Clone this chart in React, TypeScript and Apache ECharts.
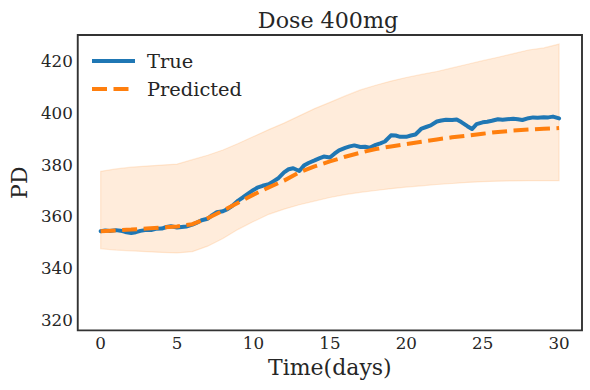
import { useEffect, useRef } from "react";
import * as echarts from "echarts";

const trueDays = [
  0, 0.3, 0.6, 1, 1.3, 1.6, 2, 2.3, 2.6, 3, 3.3, 3.6, 4, 4.3, 4.6, 5, 5.3, 5.6, 6, 6.3, 6.6, 7, 7.3, 7.6,
  8, 8.3, 8.6, 9, 9.3, 9.6, 10, 10.3, 10.6, 11, 11.3, 11.6, 12, 12.3, 12.6, 13, 13.3, 13.6, 14, 14.3, 14.6,
  15, 15.3, 15.6, 16, 16.3, 16.6, 17, 17.3, 17.6, 18, 18.3, 18.6, 19, 19.3, 19.6, 20, 20.3, 20.6, 21, 21.3,
  21.6, 22, 22.3, 22.6, 23, 23.3, 23.6, 24, 24.3, 24.6, 25, 25.3, 25.6, 26, 26.3, 26.6, 27, 27.3, 27.6, 28,
  28.3, 28.6, 29, 29.3, 29.6, 30,
];
const trueValues = [
  354.3, 354.6, 354.4, 354.7, 354.5, 354.0, 353.6, 353.9, 354.4, 354.8, 354.7, 355.2, 355.3, 355.9, 356.2,
  355.7, 355.9, 356.1, 356.8, 357.6, 358.5, 359.1, 360.5, 361.6, 362.0, 362.8, 364.0, 366.1, 367.3, 368.6,
  370.2, 371.2, 371.8, 372.4, 373.5, 374.6, 377.0, 378.2, 378.6, 377.5, 379.6, 380.6, 381.6, 382.4, 383.1,
  382.7, 384.2, 385.5, 386.4, 387.0, 387.4, 386.8, 386.9, 386.5, 387.6, 388.2, 388.9, 391.3, 391.2, 390.7,
  390.7, 391.2, 391.6, 393.9, 394.5, 395.1, 396.6, 397.0, 397.3, 397.2, 397.4, 396.4, 394.8, 393.7, 395.6,
  396.3, 396.5, 396.9, 397.5, 397.3, 397.5, 397.7, 397.5, 397.2, 397.9, 398.2, 398.1, 398.3, 398.2, 398.5,
  397.8,
];

const predDays = [
  0, 1, 2, 3, 4, 5, 6, 7, 8, 9, 10, 11, 12, 13, 14, 15, 16, 17, 18, 19, 20, 21, 22, 23, 24, 25, 26, 27, 28,
  29, 30,
];
const predValues = [
  354.3, 354.6, 354.9, 355.3, 355.7, 356.1, 357.0, 359.3, 362.2, 365.3, 368.4, 371.2, 373.8, 377.0, 379.3,
  381.2, 383.0, 384.6, 386.0, 387.0, 387.9, 388.8, 389.7, 390.5, 391.2, 391.9, 392.6, 393.1, 393.5, 393.8,
  394.1,
];
const upperValues = [
  377.4, 378.3, 379.0, 379.4, 379.8, 380.2, 381.9, 383.6, 385.6, 388.1, 390.8, 393.5, 396.0, 398.8, 401.6,
  404.0, 406.5, 408.8, 410.6, 412.2, 413.6, 414.8, 415.9, 417.3, 418.7, 420.1, 421.4, 422.8, 424.2, 425.0,
  426.5,
];
const lowerValues = [
  347.5, 347.0, 346.7, 346.4, 346.1, 345.9, 346.4, 348.5, 351.5, 355.0, 358.0, 360.8, 362.8, 364.5, 365.9,
  367.3, 368.4, 369.3, 370.0, 370.7, 371.3, 371.8, 372.3, 372.7, 373.1, 373.4, 373.6, 373.7, 373.8, 373.8,
  373.8,
];

const xTicks = [0, 5, 10, 15, 20, 25, 30];
const yTicks = [320, 340, 360, 380, 400, 420];
const legendNames = ["True", "Predicted"];

export default function App() {
  const ref = useRef<HTMLDivElement>(null);
  useEffect(() => {
    document.body.style.margin = "0";
    const chart = echarts.init(ref.current!, null, { renderer: "svg" });
    const font = "DejaVu Serif";
    const textColor = "#262626";
    const bandColor = "rgba(255,127,14,0.15)";
    const blue = "#1f77b4";
    const orange = "#ff7f0e";
    chart.setOption({
      animation: false,
      textStyle: { fontFamily: font },
      grid: {
        left: 74,
        right: 8,
        top: 35,
        bottom: 59.6,
        show: true,
        borderColor: "#333",
        borderWidth: 1.9,
        backgroundColor: "transparent",
      },
      xAxis: {
        type: "value",
        min: -1.5,
        max: 31.5,
        name: "Time(days)",
        nameLocation: "middle",
        nameGap: 24,
        nameTextStyle: { fontFamily: font, fontSize: 22, color: textColor },
        axisLine: { show: false },
        axisTick: { show: false },
        splitLine: { show: false },
        axisLabel: { customValues: xTicks, fontFamily: font, fontSize: 16.7, color: textColor, margin: 4 },
      },
      yAxis: {
        type: "value",
        min: 316,
        max: 430,
        name: "PD",
        nameLocation: "middle",
        nameGap: 46,
        nameTextStyle: { fontFamily: font, fontSize: 22, color: textColor },
        axisLine: { show: false },
        axisTick: { show: false },
        splitLine: { show: false },
        axisLabel: { customValues: yTicks, fontFamily: font, fontSize: 16.7, color: textColor, margin: 5 },
      },
      graphic: [
        {
          type: "text",
          x: 328,
          y: 20,
          style: {
            text: "Dose 400mg",
            fontFamily: font,
            fontSize: 22.2,
            fill: textColor,
            textAlign: "center",
            textVerticalAlign: "middle",
          },
        },
        {
          type: "line",
          shape: { x1: 92, y1: 61, x2: 135, y2: 61 },
          style: { stroke: blue, lineWidth: 4 },
          z: 10,
        },
        {
          type: "text",
          x: 147,
          y: 61,
          style: {
            text: legendNames[0],
            fontFamily: font,
            fontSize: 19.4,
            fill: textColor,
            textVerticalAlign: "middle",
          },
          z: 10,
        },
        {
          type: "line",
          shape: { x1: 92, y1: 89, x2: 135, y2: 89 },
          style: { stroke: orange, lineWidth: 4, lineDash: [15, 6.5] },
          z: 10,
        },
        {
          type: "text",
          x: 147,
          y: 89,
          style: {
            text: legendNames[1],
            fontFamily: font,
            fontSize: 19.4,
            fill: textColor,
            textVerticalAlign: "middle",
          },
          z: 10,
        },
      ],
      series: [
        {
          type: "custom",
          name: "band",
          silent: true,
          clip: true,
          z: 1,
          data: predDays.map((d, i) => [d, lowerValues[i], upperValues[i]]),
          encode: { x: 0, y: [1, 2] },
          renderItem: (params: any, api: any) => {
            if (params.dataIndex !== 0) return null;
            const pts: number[][] = [];
            for (let i = 0; i < predDays.length; i++) pts.push(api.coord([predDays[i], upperValues[i]]));
            for (let i = predDays.length - 1; i >= 0; i--) pts.push(api.coord([predDays[i], lowerValues[i]]));
            return {
              type: "polygon",
              shape: { points: pts },
              style: { fill: bandColor, stroke: bandColor, lineWidth: 1.2 },
            };
          },
        },
        {
          type: "line",
          name: "True",
          symbol: "none",
          data: trueDays.map((d, i) => [d, trueValues[i]]),
          itemStyle: { color: blue },
          lineStyle: { color: blue, width: 4, join: "round", cap: "round" },
          z: 3,
        },
        {
          type: "line",
          name: "Predicted",
          symbol: "none",
          data: predDays.map((d, i) => [d, predValues[i]]),
          itemStyle: { color: orange },
          lineStyle: { color: orange, width: 4, type: [15, 6.5] },
          z: 4,
        },
      ],
    });
    return () => chart.dispose();
  }, []);
  return (
    <div
      ref={ref}
      style={{ position: "absolute", left: 0, top: 0, width: 590, height: 390, background: "#fff" }}
    />
  );
}
